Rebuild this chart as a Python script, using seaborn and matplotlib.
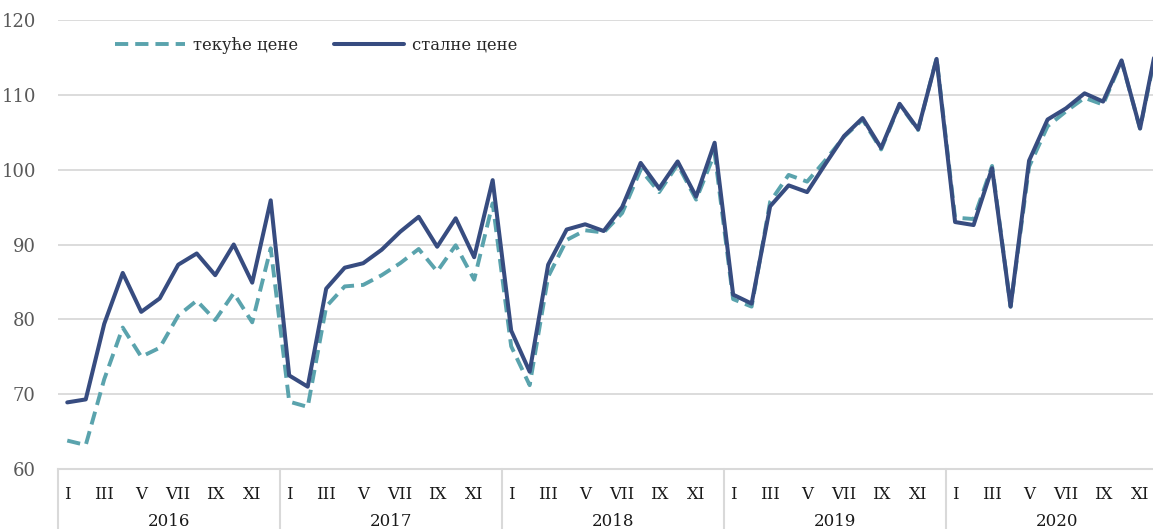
import numpy as np
import pandas as pd
import matplotlib
matplotlib.use("Agg")
import matplotlib.pyplot as plt
import matplotlib.transforms as mtransforms
import seaborn as sns

years = ["2016", "2017", "2018", "2019", "2020"]
month_labels = ["I", "II", "III", "IV", "V", "VI", "VII", "VIII", "IX", "X", "XI", "XII"]

# текуће цене (current prices)
current = [
    63.8, 63.2, 72.0, 78.9, 75.0, 76.2, 80.5, 82.5, 79.9, 83.5, 79.6, 89.5,
    69.0, 68.3, 81.7, 84.4, 84.6, 85.9, 87.5, 89.4, 86.4, 89.9, 85.3, 95.5,
    76.4, 71.2, 85.7, 90.6, 91.9, 91.6, 94.2, 100.0, 97.0, 100.7, 96.0, 102.2,
    82.7, 81.7, 95.7, 99.3, 98.4, 101.3, 104.4, 106.7, 102.7, 108.7, 105.3, 114.9,
    93.6, 93.4, 100.5, 81.7, 100.4, 105.8, 107.8, 109.6, 108.7, 114.5, 105.5, 117.5,
]
# сталне цене (constant prices)
constant = [
    68.9, 69.3, 79.4, 86.2, 81.0, 82.8, 87.3, 88.8, 85.9, 90.0, 84.9, 95.9,
    72.5, 71.0, 84.1, 86.9, 87.5, 89.3, 91.7, 93.7, 89.7, 93.5, 88.3, 98.6,
    78.5, 73.0, 87.3, 92.0, 92.7, 91.8, 95.0, 100.9, 97.5, 101.1, 96.4, 103.6,
    83.3, 82.1, 95.1, 97.9, 97.0, 100.8, 104.5, 106.9, 102.9, 108.8, 105.4, 114.8,
    93.0, 92.6, 100.2, 81.7, 101.2, 106.7, 108.2, 110.2, 109.1, 114.6, 105.5, 118.0,
]

df = pd.DataFrame({"t": np.arange(len(current)), "current": current, "constant": constant})

sns.set_style("white")
plt.rcParams["font.family"] = ["DejaVu Serif", "DejaVu Sans"]

teal = "#5AA3AD"
navy = "#374C80"
grid = "#D9D9D9"

fig = plt.figure(figsize=(11.53, 5.29), dpi=100)
ax = fig.add_axes([58 / 1153, 60 / 529, 1095 / 1153, 449 / 529])

sns.lineplot(data=df, x="t", y="current", ax=ax, color=teal, lw=2.8,
             label="текуће цене")
ax.lines[-1].set_dashes((3.4, 1.8))
sns.lineplot(data=df, x="t", y="constant", ax=ax, color=navy, lw=2.9,
             label="сталне цене")

ax.set_xlim(-0.5, 58.7)
ax.set_ylim(60, 120)
ax.set_yticks(range(60, 121, 10))
ax.yaxis.grid(True, color=grid, lw=1.3)
ax.set_axisbelow(True)
for s in ["top", "right", "left"]:
    ax.spines[s].set_visible(False)
ax.spines["bottom"].set_color(grid)
ax.spines["bottom"].set_linewidth(1.5)
ax.tick_params(axis="y", length=0, pad=16, labelsize=13, labelcolor="#595959")

# month ticks (odd months) with year labels underneath
ticks = [y * 12 + m for y in range(len(years)) for m in range(0, 12, 2)]
ax.set_xticks(ticks)
ax.set_xticklabels([month_labels[t % 12] for t in ticks])
ax.tick_params(axis="x", length=0, pad=12, labelsize=12, labelcolor="#1a1a1a")
ax.set_xlabel("")
ax.set_ylabel("")

trans = mtransforms.blended_transform_factory(ax.transData, ax.transAxes)
for i, yr in enumerate(years):
    ax.text(i * 12 + 5.5, -0.118, yr, transform=trans, ha="center", va="center",
            fontsize=12, color="#1a1a1a")
    ax.plot([i * 12 - 0.5, i * 12 - 0.5], [0, -0.2], transform=trans,
            color=grid, lw=1.5, clip_on=False)

leg = ax.legend(loc="center left", bbox_to_anchor=(0.045, 0.944), ncol=2,
                frameon=False, fontsize=11.8, handlelength=4.25,
                handletextpad=0.48, columnspacing=2.2, borderpad=0)

fig.savefig("out.png", dpi=100)
